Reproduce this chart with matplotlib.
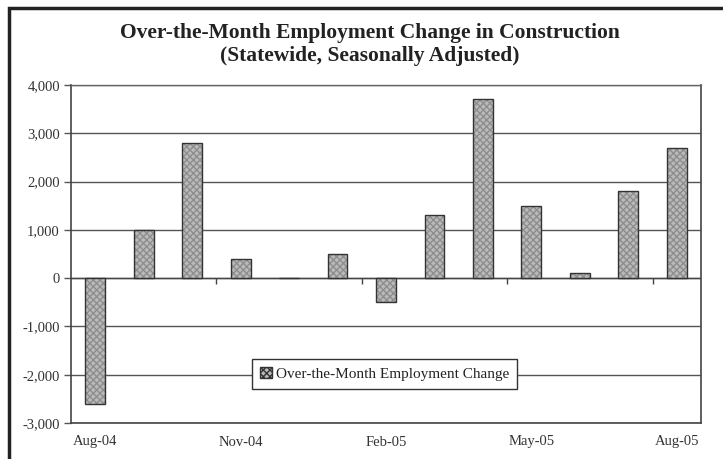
import matplotlib.pyplot as plt
from matplotlib.patches import Rectangle, Patch

# monthly over-the-month change, Aug-04 .. Aug-05
months = ['Aug-04', 'Sep-04', 'Oct-04', 'Nov-04', 'Dec-04', 'Jan-05', 'Feb-05',
          'Mar-05', 'Apr-05', 'May-05', 'Jun-05', 'Jul-05', 'Aug-05']
change = [-2600, 1000, 2800, 400, 0, 500, -500, 1300, 3700, 1500, 100, 1800, 2700]
y_ticks = [-3000, -2000, -1000, 0, 1000, 2000, 3000, 4000]

plt.rcParams['font.family'] = ['Liberation Serif', 'DejaVu Serif']

fig = plt.figure(figsize=(7.23, 4.59), dpi=100)
ax = fig.add_axes([71 / 723, 1 - 423 / 459, 630 / 723, 338 / 459])

x = list(range(len(months)))
bar_face = dict(color='#bababa', edgecolor='#8e8e8e', hatch='xxxxx', linewidth=0)
# fill with fine hatch first, then the dark outline on top
ax.bar(x, change, width=0.41, zorder=3, **bar_face)
ax.bar(x, change, width=0.41, color='none', edgecolor='#333333', linewidth=1.0, zorder=4)

ax.set_xlim(-0.5, len(months) - 0.5)
ax.set_ylim(-3000, 4000)
ax.set_yticks(y_ticks)
ax.set_yticklabels([f'{v:,}' for v in y_ticks], fontsize=10.5, color='#333333')
ax.yaxis.grid(True, color='#555555', linewidth=1.0, zorder=0)
ax.axhline(0, color='#444444', linewidth=1.0, zorder=2)
ax.tick_params(axis='y', length=5, width=1, color='#555555', pad=3)

# labels every third month at the bottom
ax.set_xticks(x[::3])
ax.set_xticklabels(months[::3], fontsize=10.5, color='#333333')
ax.tick_params(axis='x', length=0, pad=9)

# category ticks sit on the zero line between groups of three months
zero_axis = ax.secondary_xaxis(3 / 7)
zero_axis.set_xticks([i + 0.5 for i in x[2:-1:3]])
zero_axis.set_xticklabels([])
zero_axis.tick_params(length=4, width=1, color='#444444', direction='out')
zero_axis.spines['bottom'].set_visible(False)

for side in ['left', 'right', 'bottom', 'top']:
    ax.spines[side].set_color('#444444')
    ax.spines[side].set_linewidth(1.2)
ax.spines['top'].set_color('#666666')
ax.spines['top'].set_linewidth(1.0)

handle = Patch(facecolor='#bababa', edgecolor='#333333', hatch='xxxxx', linewidth=1.0)
leg = ax.legend([handle], ['Over-the-Month Employment Change'], loc='center',
                bbox_to_anchor=(0.498, 0.145), fontsize=11, fancybox=False,
                handlelength=0.75, handleheight=0.75, handletextpad=0.3,
                borderpad=0.5, borderaxespad=0)
leg.get_frame().set_edgecolor('#333333')
leg.get_frame().set_linewidth(1.0)
leg.get_frame().set_alpha(1)
for t in leg.get_texts():
    t.set_color('#222222')

fig.text(0.512, 1 - 33 / 459, 'Over-the-Month Employment Change in Construction',
         ha='center', va='center', fontsize=15.5, fontweight='bold', color='#222222')
fig.text(0.512, 1 - 56 / 459, '(Statewide, Seasonally Adjusted)',
         ha='center', va='center', fontsize=15.5, fontweight='bold', color='#222222')

# outer chart frame
fig.patches.append(Rectangle((9 / 723, -0.05), 1.1, 1 - 8 / 459 + 0.05,
                             transform=fig.transFigure, fill=False,
                             edgecolor='#222222', linewidth=2.5))

fig.savefig('out.png', dpi=100)
